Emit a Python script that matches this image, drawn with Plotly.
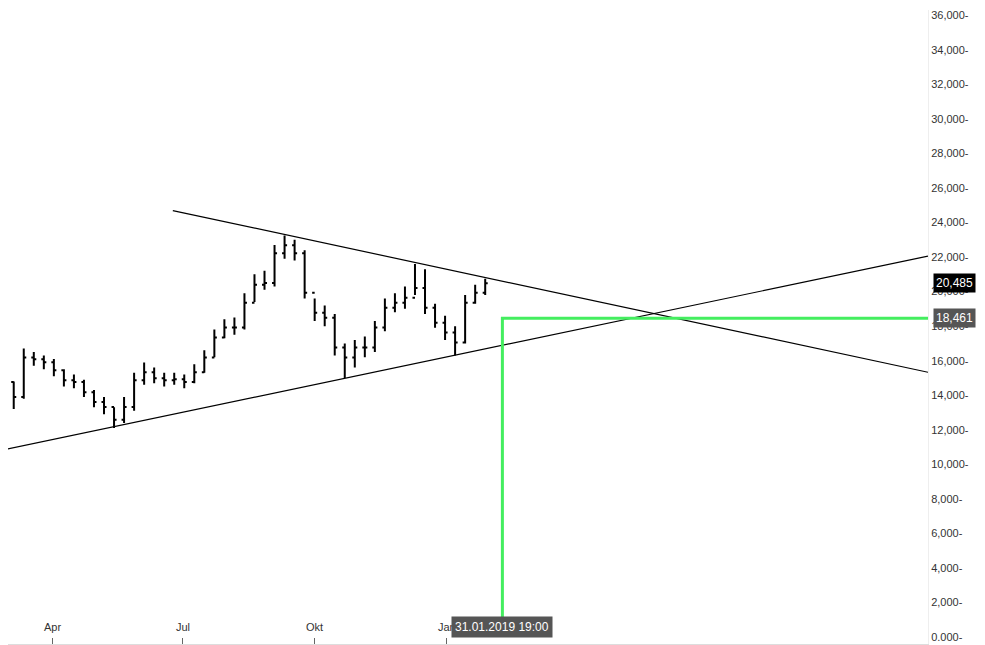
import plotly.graph_objects as go
import pandas as pd

dates = pd.date_range("2018-02-26", periods=49, freq="7D")
closes = [14760,13900,16190,16080,15910,15450,14870,14760,14180,13610,13320,12580,13320,14870,15330,14990,
          14870,14930,14760,15330,16190,17340,17920,17920,19350,20390,20500,22220,22680,22220,19930,18780,
          18490,16770,16190,16770,16770,17920,19060,19350,19640,20210,19060,18200,17630,17050,19350,19930,20485]
opens = [14500] + closes[:-1]
highs = [15100,14800,16700,16500,16300,16100,15500,15200,14900,14300,13900,13300,13900,15300,15900,15600,
         15300,15300,15200,15800,16600,17800,18400,18500,19900,21000,21200,22700,23250,23000,22400,19600,
         19200,18700,17000,17200,17400,18300,19600,19900,20300,21600,21300,19300,18600,18000,19800,20400,20750]
lows = [14200,13200,13800,15700,15500,15100,14500,14400,13900,13300,12900,12100,12400,13100,14600,14700,
        14500,14600,14400,14700,15300,16200,17300,17500,17800,19400,20100,20300,21900,21800,19600,18300,
        18000,16300,15000,15600,16200,16500,17700,18800,19000,19800,18700,17900,17200,16300,17000,19300,19800]

upper_x = ["2018-06-24", "2019-12-03"]
upper_y = [24690, 15330]
lower_x = ["2018-02-23", "2019-12-03"]
lower_y = [10795, 22050]
cross_label = "31.01.2019 19:00"
cross_x = "2019-02-09"  # position on this calendar axis matching the reference's trading-day axis
cross_y = 18461
last_price = 20485
xtick_dates = ["2018-04-01", "2018-07-01", "2018-10-01", "2019-01-01"]
xtick_labels = ["Apr", "Jul", "Okt", "Jan"]
yticks = list(range(0, 36001, 2000))
ylabels = [("0.000" if v == 0 else f"{v:,}") + "-" for v in yticks]

fig = go.Figure()
fig.add_trace(go.Ohlc(x=dates, open=opens, high=highs, low=lows, close=closes,
                      increasing_line_color="black", decreasing_line_color="black",
                      line_width=2, tickwidth=0.25, showlegend=False, hoverinfo="skip"))
fig.add_trace(go.Scatter(x=upper_x, y=upper_y, mode="lines", line=dict(color="black", width=1.2),
                         showlegend=False, hoverinfo="skip"))
fig.add_trace(go.Scatter(x=lower_x, y=lower_y, mode="lines", line=dict(color="black", width=1.2),
                         showlegend=False, hoverinfo="skip"))
fig.add_trace(go.Scatter(x=[cross_x, cross_x, upper_x[1]], y=[0, cross_y, cross_y], mode="lines",
                         line=dict(color="#44ee5f", width=3), showlegend=False, hoverinfo="skip"))

for d, t in zip(xtick_dates, xtick_labels):
    fig.add_annotation(x=d, y=0, yref="y", text=t, yanchor="bottom", yshift=2, showarrow=False,
                       font=dict(size=11, color="#333"))
for val, bg in [(last_price, "black"), (cross_y, "#555555")]:
    fig.add_annotation(x=1, xref="paper", y=val, yref="y", text=f"{val:,}",
                       xanchor="left", xshift=5, showarrow=False, bgcolor=bg,
                       font=dict(color="white", size=12, family="Liberation Sans"), borderpad=2)
fig.add_annotation(x=cross_x, y=0, yref="y", text=cross_label, yanchor="bottom", yshift=-1,
                   showarrow=False, bgcolor="#555555",
                   font=dict(color="white", size=12, family="Liberation Sans"), borderpad=3)

fig.update_layout(
    width=985, height=645, margin=dict(l=0, r=65, t=2, b=9, autoexpand=False),
    paper_bgcolor="white", plot_bgcolor="white",
    font=dict(family="Liberation Sans", size=11, color="#333"),
    xaxis=dict(range=["2018-03-01", "2019-12-03"], rangeslider_visible=False, showgrid=False,
               tickvals=xtick_dates, showticklabels=False, ticks="inside", ticklen=6, tickcolor="#666",
               showline=True, linecolor="#ddd", linewidth=2, zeroline=False),
    yaxis=dict(side="right", range=[-400, 36300], tickvals=yticks, ticktext=ylabels,
               ticks="", showgrid=False, showline=True, linecolor="#eee", zeroline=False),
)
fig.write_html("out.html")
